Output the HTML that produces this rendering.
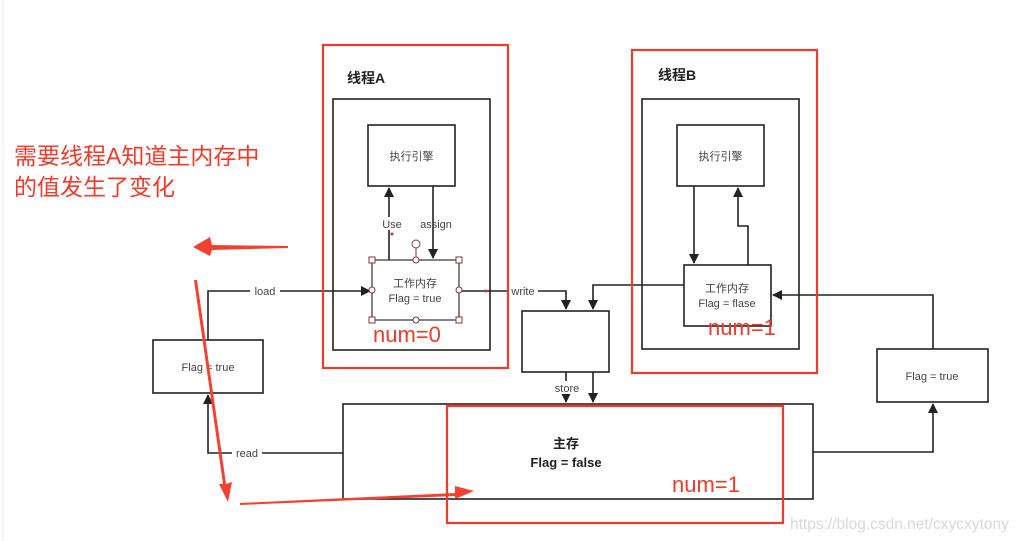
<!DOCTYPE html>
<html><head><meta charset="utf-8"><style>
html,body{margin:0;padding:0;background:#fff;}
svg{display:block;}
text{font-family:"Liberation Sans","Noto Sans CJK SC",sans-serif;}
</style></head><body>
<svg width="1020" height="541" viewBox="0 0 1020 541" xmlns="http://www.w3.org/2000/svg">
<defs>
<marker id="ah" markerWidth="10" markerHeight="10" refX="9" refY="5" orient="auto" markerUnits="userSpaceOnUse"><path d="M0,0 L10,5 L0,10 z" fill="#222"/></marker>
</defs>
<line x1="3" y1="0" x2="3" y2="541" stroke="#eee" stroke-width="1"/>
<g fill="none" stroke="#222" stroke-width="1.6">
<rect x="333" y="99" width="157" height="251"/>
<rect x="368" y="125" width="87" height="61"/>
<rect x="372" y="260" width="87" height="60" stroke="#333" stroke-width="1.2"/>
<line x1="389" y1="260" x2="389" y2="188" marker-end="url(#ah)"/>
<line x1="433" y1="186" x2="433" y2="258" marker-end="url(#ah)"/>
<rect x="642" y="99" width="157" height="250"/>
<rect x="677" y="125" width="87" height="61"/>
<rect x="684" y="265" width="87" height="61"/>
<polyline points="694,186 694,263" marker-end="url(#ah)"/>
<polyline points="748,265 748,226 738,226 738,188" marker-end="url(#ah)"/>
<rect x="522" y="311" width="87" height="61"/>
<polyline points="459,291 566,291 566,309" marker-end="url(#ah)"/>
<polyline points="684,285 593,285 593,309" marker-end="url(#ah)"/>
<line x1="566" y1="372" x2="566" y2="402" marker-end="url(#ah)"/>
<line x1="593" y1="372" x2="593" y2="402" marker-end="url(#ah)"/>
<rect x="343" y="404" width="470" height="95"/>
<rect x="153" y="340" width="110" height="53"/>
<polyline points="208,340 208,291 370,291" marker-end="url(#ah)"/>
<polyline points="343,453 208,453 208,395" marker-end="url(#ah)"/>
<rect x="877" y="349" width="111" height="53"/>
<polyline points="933,349 933,295 773,295" marker-end="url(#ah)"/>
<polyline points="813,452 933,452 933,404" marker-end="url(#ah)"/>
</g>
<g fill="#fff" stroke="#833" stroke-width="1">
<line x1="416" y1="260" x2="416" y2="248"/>
<circle cx="416" cy="244" r="4"/>
<circle cx="416" cy="260" r="3"/><circle cx="416" cy="320" r="3"/>
<circle cx="372" cy="290" r="3"/><circle cx="459" cy="290" r="3"/>
<rect x="369" y="257" width="6" height="6"/><rect x="456" y="257" width="6" height="6"/>
<rect x="369" y="317" width="6" height="6"/><rect x="456" y="317" width="6" height="6"/>
</g>
<circle cx="392" cy="234" r="1.5" fill="#c33"/><circle cx="486" cy="291" r="1.5" fill="#c33"/>
<g font-size="11" fill="#444" text-anchor="middle">
<rect x="382" y="217" width="18" height="13" fill="#fff"/>
<text x="392" y="228">Use</text>
<text x="436" y="228">assign</text>
<text x="411.5" y="160">执行引擎</text>
<text x="720.5" y="160">执行引擎</text>
<text x="415" y="287">工作内存</text>
<text x="415" y="302">Flag = true</text>
<text x="727" y="292">工作内存</text>
<text x="727" y="307">Flag = flase</text>
<text x="208" y="371">Flag = true</text>
<text x="932" y="380">Flag = true</text>
</g>
<g font-size="11" fill="#444" text-anchor="middle">
<rect x="250" y="284" width="30" height="13" fill="#fff"/><text x="265" y="295">load</text>
<rect x="232" y="446" width="30" height="13" fill="#fff"/><text x="247" y="457">read</text>
<rect x="508" y="284" width="30" height="13" fill="#fff"/><text x="523" y="295">write</text>
<rect x="551" y="381" width="32" height="13" fill="#fff"/><text x="567" y="392">store</text>
</g>
<text x="347" y="83" font-size="14" font-weight="bold" fill="#222">线程A</text>
<text x="658" y="80" font-size="14" font-weight="bold" fill="#222">线程B</text>
<text x="566" y="448" font-size="13" font-weight="bold" fill="#222" text-anchor="middle">主存</text>
<text x="566" y="467" font-size="13" font-weight="bold" fill="#222" text-anchor="middle">Flag = false</text>
<g fill="none" stroke="#ee3b2b" stroke-width="2.2">
<rect x="323" y="45" width="185" height="323"/>
<rect x="632" y="50" width="185" height="323"/>
<rect x="447" y="406" width="336" height="117"/>
</g>
<g fill="#ee3b2b" font-size="22">
<text x="373" y="342">num=0</text>
<text x="708" y="335">num=1</text>
<text x="672" y="492">num=1</text>
</g>
<g fill="#ee3b2b" font-size="23">
<text x="14" y="164">需要线程A知道主内存中</text>
<text x="14" y="195">的值发生了变化</text>
</g>
<g fill="#f24130">
<polygon points="288,246 212,245 210,237 193,247 210,256 212,250 288,248"/>
<polygon points="194,280 197,280 226,484 232,482 228,502 219,484 223,484"/>
<polygon points="240,503 455,493 455,486 474,491 455,499 455,496 240,505"/>
</g>
<text x="790" y="529" font-size="15.5" fill="#d8d8d8">https://blog.csdn.net/cxycxytony</text>
</svg>
</body></html>
